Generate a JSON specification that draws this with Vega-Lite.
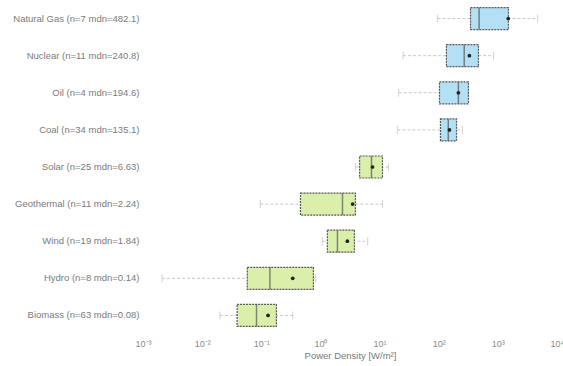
{
  "$schema": "https://vega.github.io/schema/vega-lite/v6.json",
  "width": 414,
  "height": 334,
  "autosize": {"type": "none"},
  "padding": {"left": 143, "top": 0, "right": 6, "bottom": 32},
  "background": "white",
  "config": {
    "view": {"stroke": null},
    "font": "Liberation Sans"
  },
  "data": {
    "values": [
      {"label": "Natural Gas (n=7 mdn=482.1)", "group": "non", "low": 95, "q1": 345, "median": 482.1, "q3": 1510, "high": 4700, "mean": 1500},
      {"label": "Nuclear (n=11 mdn=240.8)", "group": "non", "low": 25, "q1": 135, "median": 270, "q3": 470, "high": 850, "mean": 330},
      {"label": "Oil (n=4 mdn=194.6)", "group": "non", "low": 21, "q1": 103, "median": 215, "q3": 318, "high": 318, "mean": 215},
      {"label": "Coal (n=34 mdn=135.1)", "group": "non", "low": 20, "q1": 107, "median": 145, "q3": 200, "high": 252, "mean": 152},
      {"label": "Solar (n=25 mdn=6.63)", "group": "ren", "low": 3.9, "q1": 4.6, "median": 7.3, "q3": 11.2, "high": 14.1, "mean": 7.6},
      {"label": "Geothermal (n=11 mdn=2.24)", "group": "ren", "low": 0.096, "q1": 0.46, "median": 2.36, "q3": 3.9, "high": 11.2, "mean": 3.5},
      {"label": "Wind (n=19 mdn=1.84)", "group": "ren", "low": 1.08, "q1": 1.31, "median": 1.94, "q3": 3.75, "high": 6.3, "mean": 2.85},
      {"label": "Hydro (n=8 mdn=0.14)", "group": "ren", "low": 0.0021, "q1": 0.058, "median": 0.14, "q3": 0.76, "high": 0.83, "mean": 0.34},
      {"label": "Biomass (n=63 mdn=0.08)", "group": "ren", "low": 0.02, "q1": 0.039, "median": 0.083, "q3": 0.18, "high": 0.34, "mean": 0.13}
    ]
  },
  "encoding": {
    "y": {
      "field": "label",
      "type": "nominal",
      "sort": null,
      "title": null,
      "scale": {"paddingInner": 0, "paddingOuter": 0},
      "axis": {
        "domain": false,
        "ticks": false,
        "labelFontSize": 9.5,
        "labelColor": "#7a7a7a",
        "labelPadding": 4,
        "labelLimit": 200
      }
    }
  },
  "layer": [
    {
      "mark": {"type": "rule", "color": "#c8c8c8", "strokeDash": [3, 2], "strokeWidth": 1},
      "encoding": {
        "x": {
          "field": "low",
          "type": "quantitative",
          "scale": {"type": "log", "domain": [0.001, 10000], "nice": false},
          "title": "Power Density [W/m²]",
          "axis": {
            "values": [0.001, 0.01, 0.1, 1, 10, 100, 1000, 10000],
            "labelExpr": "datum.value < 0.005 ? '10⁻³' : datum.value < 0.05 ? '10⁻²' : datum.value < 0.5 ? '10⁻¹' : datum.value < 5 ? '10⁰' : datum.value < 50 ? '10¹' : datum.value < 500 ? '10²' : datum.value < 5000 ? '10³' : '10⁴'",
            "domain": false,
            "ticks": false,
            "grid": false,
            "labelFontSize": 9,
            "labelColor": "#8a8a8a",
            "labelPadding": 5,
            "labelOverlap": false,
            "labelFlush": false,
            "titleFontSize": 9.5,
            "titleFontWeight": "normal",
            "titleColor": "#7a7a7a",
            "titlePadding": 2
          }
        },
        "x2": {"field": "high"}
      }
    },
    {
      "mark": {"type": "tick", "color": "#c0c0c0", "size": 8, "thickness": 1},
      "encoding": {"x": {"field": "low", "type": "quantitative"}}
    },
    {
      "mark": {"type": "tick", "color": "#c0c0c0", "size": 8, "thickness": 1},
      "encoding": {"x": {"field": "high", "type": "quantitative"}}
    },
    {
      "mark": {"type": "bar", "height": 22, "stroke": "#555555", "strokeWidth": 1.2, "strokeDash": [2, 1]},
      "encoding": {
        "x": {"field": "q1", "type": "quantitative"},
        "x2": {"field": "q3"},
        "fill": {
          "field": "group",
          "type": "nominal",
          "scale": {"domain": ["non", "ren"], "range": ["#b3e0f5", "#daf0aa"]},
          "legend": null
        }
      }
    },
    {
      "mark": {"type": "tick", "color": "#555555", "size": 22, "thickness": 1.5},
      "encoding": {"x": {"field": "median", "type": "quantitative"}}
    },
    {
      "mark": {"type": "point", "filled": true, "color": "#222222", "size": 14, "opacity": 1},
      "encoding": {"x": {"field": "mean", "type": "quantitative"}}
    }
  ]
}
